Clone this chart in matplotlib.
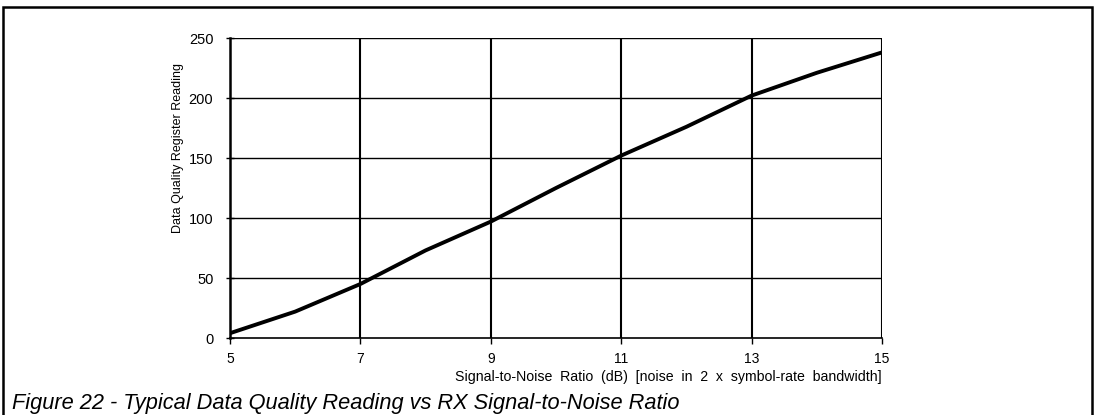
import matplotlib.pyplot as plt
from matplotlib.patches import Rectangle

plt.rcParams['font.family'] = ['Liberation Sans', 'DejaVu Sans']

# SNR (dB) vs data quality register reading
snr = [5, 6, 7, 8, 9, 10, 11, 12, 13, 14, 15]
reading = [4, 22, 45, 73, 97, 125, 152, 176, 202, 221, 238]
xticks = [5, 7, 9, 11, 13, 15]
yticks = [0, 50, 100, 150, 200, 250]

W, H = 1096, 415
fig = plt.figure(figsize=(W / 100, H / 100), dpi=100)
ax = fig.add_axes([230 / W, 1 - 338 / H, 652 / W, 300 / H])

ax.plot(snr, reading, color='black', lw=2.8, solid_capstyle='butt', zorder=3)

ax.set_xlim(5, 15)
ax.set_ylim(0, 250)
ax.set_xticks(xticks)
ax.set_yticks(yticks)
ax.tick_params(axis='x', direction='out', length=4, width=1, labelsize=10, pad=6)
ax.tick_params(axis='y', direction='inout', length=6, width=1, labelsize=10.5, pad=9)

for x in xticks[1:]:
    ax.axvline(x, color='black', lw=1.5, zorder=1)
for y in yticks[1:]:
    ax.axhline(y, color='black', lw=1.0, zorder=1)

for s in ['top', 'right']:
    ax.spines[s].set_visible(False)
ax.spines['left'].set_linewidth(1.8)
ax.spines['bottom'].set_linewidth(1.2)

fig.text(882 / W, 1 - 377 / H,
         'Signal-to-Noise  Ratio  (dB)  [noise  in  2  x  symbol-rate  bandwidth]',
         ha='right', va='center', fontsize=10.2)
fig.text(178 / W, 1 - 148 / H, 'Data Quality Register Reading', rotation=90,
         ha='center', va='center', fontsize=9)
fig.text(12 / W, 1 - 403 / H, 'Figure 22 - Typical Data Quality Reading vs RX Signal-to-Noise Ratio',
         ha='left', va='center', fontsize=15.7, style='italic')

fig.patches.append(Rectangle((3 / W, -0.05), 1089 / W, 1.05 - 7 / H, transform=fig.transFigure,
                             fill=False, edgecolor='black', lw=1.8))

fig.savefig('out.png', dpi=100)
